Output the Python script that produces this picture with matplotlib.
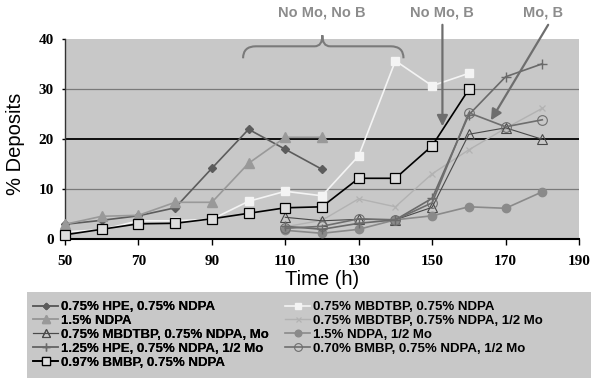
import matplotlib
matplotlib.use("Agg")
import matplotlib.pyplot as plt
from matplotlib.path import Path
from matplotlib.patches import PathPatch, Rectangle

plt.rcParams['font.family'] = ['Liberation Sans', 'DejaVu Sans']

# Sampling times (h)
hours_early = [50, 60, 70, 80, 90, 100, 110, 120]
hours_full = [50, 60, 70, 80, 90, 100, 110, 120, 130, 140, 150, 160]
hours_late = [110, 120, 130, 140, 150, 160, 170, 180]

# % deposits per formulation
hpe_ndpa = [3.0, 3.8, 4.7, 6.3, 14.2, 22.0, 18.0, 14.0]
mbdtbp_ndpa = [1.5, 1.9, 3.7, 3.7, 4.0, 7.6, 9.6, 8.7, 16.7, 35.7, 30.7, 33.2]
ndpa = [3.0, 4.6, 4.8, 7.4, 7.4, 15.2, 20.4, 20.4]
mbdtbp_ndpa_half_mo = [2.5, 3.8, 8.1, 6.5, 13.1, 17.9, 22.2, 26.2]
mbdtbp_ndpa_mo = [4.4, 3.7, 4.0, 3.9, 6.4, 21.0, 22.3, 20.0]
ndpa_half_mo = [1.8, 1.2, 2.0, 3.9, 4.7, 6.5, 6.2, 9.5]
hpe_ndpa_half_mo = [2.6, 2.0, 3.2, 3.9, 8.2, 24.9, 32.5, 35.1]
bmbp070_ndpa_half_mo = [2.2, 2.6, 4.1, 3.9, 7.3, 25.3, 22.5, 23.9]
bmbp097_ndpa = [0.9, 2.0, 3.1, 3.2, 4.1, 5.2, 6.3, 6.5, 12.2, 12.2, 18.7, 30.0]

labels = [
    "0.75% HPE, 0.75% NDPA",
    "0.75% MBDTBP, 0.75% NDPA",
    "1.5% NDPA",
    "0.75% MBDTBP, 0.75% NDPA, 1/2 Mo",
    "0.75% MBDTBP, 0.75% NDPA, Mo",
    "1.5% NDPA, 1/2 Mo",
    "1.25% HPE, 0.75% NDPA, 1/2 Mo",
    "0.70% BMBP, 0.75% NDPA, 1/2 Mo",
    "0.97% BMBP, 0.75% NDPA",
]

x_ticks = [50, 70, 90, 110, 130, 150, 170, 190]
y_ticks = [0, 10, 20, 30, 40]

BG = '#c8c8c8'

fig = plt.figure(figsize=(5.91, 3.78), dpi=100)
ax = fig.add_axes([65 / 591, 1 - 239.3 / 378, 514 / 591, 200 / 378])
ax.set_facecolor(BG)
ax.set_xlim(50, 190)
ax.set_ylim(0, 40)

for yv, col, lw in [(10, '#7a7a7a', 0.9), (30, '#7a7a7a', 0.9), (20, 'black', 1.3)]:
    ax.axhline(yv, color=col, lw=lw, zorder=1)

series = [
    (hours_early, hpe_ndpa, dict(color='#5c5c5c', marker='D', ms=4, mfc='#5c5c5c', lw=1.2)),
    (hours_full, mbdtbp_ndpa, dict(color='#f4f4f4', marker='s', ms=6, mfc='#f4f4f4', lw=1.2)),
    (hours_early, ndpa, dict(color='#999999', marker='^', ms=6.5, mfc='#999999', lw=1.2)),
    (hours_late, mbdtbp_ndpa_half_mo, dict(color='#b2b2b2', marker='x', ms=4.5, mew=0.9, lw=1.0)),
    (hours_late, mbdtbp_ndpa_mo, dict(color='#4a4a4a', marker='^', ms=6.5, mfc='none', mew=0.8, lw=0.8)),
    (hours_late, ndpa_half_mo, dict(color='#8a8a8a', marker='o', ms=6, mfc='#8a8a8a', lw=1.2)),
    (hours_late, hpe_ndpa_half_mo, dict(color='#6a6a6a', marker='+', ms=7, mew=1.0, lw=1.2)),
    (hours_late, bmbp070_ndpa_half_mo, dict(color='#6e6e6e', marker='o', ms=7, mfc='none', mew=0.8, lw=1.2)),
    (hours_full, bmbp097_ndpa, dict(color='black', marker='s', ms=7.5, mfc='#dedede', mec='black', mew=0.9, lw=1.2)),
]

handles = []
for (xs, ys, style), lab in zip(series, labels):
    h, = ax.plot(xs, ys, label=lab, zorder=3, clip_on=False, **style)
    handles.append(h)

ax.spines['top'].set_visible(False)
ax.spines['right'].set_visible(False)
ax.spines['left'].set_color('#333333')
ax.spines['left'].set_linewidth(1.0)
ax.spines['bottom'].set_color('black')
ax.spines['bottom'].set_linewidth(1.5)

ax.set_xticks(x_ticks)
ax.set_yticks(y_ticks)
tick_font = dict(family='Liberation Serif', weight='bold', size=11)
ax.set_xticklabels([str(v) for v in x_ticks], fontdict=tick_font)
ax.set_yticklabels([str(v) for v in y_ticks], fontdict=tick_font)
ax.tick_params(axis='x', direction='out', length=4, width=1, pad=7)
ax.tick_params(axis='y', direction='out', length=2, width=1, pad=6)

ax.set_xlabel('Time (h)', fontsize=14.5)
ax.xaxis.set_label_coords(0.5, -0.154)
ax.xaxis.label.set_va('top')
ax.set_ylabel('% Deposits', fontsize=14.5)
ax.yaxis.set_label_coords(-0.097, 0.476)
ax.yaxis.label.set_va('center')

# Group labels and pointers above the plot
note = dict(ha='center', va='center', fontsize=10.5, fontweight='bold',
            color='#8c8c8c', clip_on=False)
ax.text(119.8, 45.4, 'No Mo, No B', **note)
ax.text(152.6, 45.4, 'No Mo, B', **note)
ax.text(180.3, 45.4, 'Mo, B', **note)

arrow = dict(arrowstyle='-|>', color='#6e6e6e', lw=1.6, mutation_scale=16,
             shrinkA=0, shrinkB=0)
ax.annotate('', xy=(152.8, 22.6), xytext=(152.8, 42.9), arrowprops=arrow,
            annotation_clip=False)
ax.annotate('', xy=(166.0, 23.8), xytext=(181.6, 42.9), arrowprops=arrow,
            annotation_clip=False)

# Curly brace spanning the first group
verts = [
    (98.5, 36.2), (98.5, 38.6), (102.0, 38.6),
    (118.0, 38.6),
    (120.1, 38.6), (120.1, 40.8),
    (120.1, 38.6), (122.2, 38.6),
    (138.7, 38.6),
    (142.2, 38.6), (142.2, 36.2),
]
codes = [Path.MOVETO, Path.CURVE3, Path.CURVE3, Path.LINETO,
         Path.CURVE3, Path.CURVE3, Path.CURVE3, Path.CURVE3,
         Path.LINETO, Path.CURVE3, Path.CURVE3]
ax.add_patch(PathPatch(Path(verts, codes), fill=False, edgecolor='#7a7a7a',
                       lw=1.5, clip_on=False))

# Legend panel with two columns
fig.patches.append(Rectangle((27 / 591, 0), (591 - 27) / 591, 86 / 378,
                             transform=fig.transFigure, facecolor=BG,
                             edgecolor='none', zorder=0))
leg_kw = dict(loc='upper left', frameon=False,
              prop=dict(family='Liberation Sans', weight='bold', size=9.5),
              handlelength=1.9, handletextpad=0.25, labelspacing=0.12,
              borderpad=0, borderaxespad=0, markerscale=0.8)
left_col = [0, 2, 4, 6, 8]
right_col = [1, 3, 5, 7]
leg1 = fig.legend([handles[i] for i in left_col], [labels[i] for i in left_col],
                  bbox_to_anchor=(33 / 591, 1 - 301 / 378), **leg_kw)
fig.add_artist(leg1)
fig.legend([handles[i] for i in right_col], [labels[i] for i in right_col],
           bbox_to_anchor=(285 / 591, 1 - 301 / 378), **leg_kw)

fig.savefig('out.png', dpi=100, facecolor='white')
